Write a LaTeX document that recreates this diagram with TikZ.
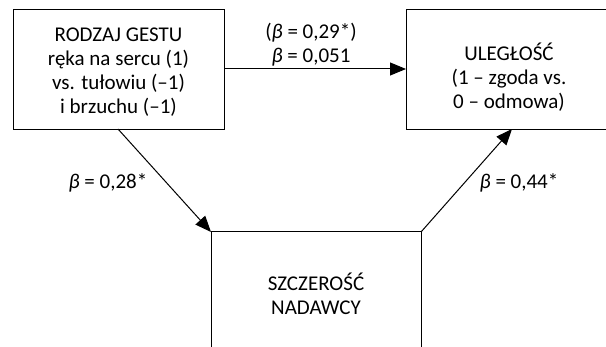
\documentclass[tikz,border=0pt]{standalone}
\usepackage{fontspec}
\setmainfont{Carlito}
\usetikzlibrary{arrows.meta}
\begin{document}
\begin{tikzpicture}[x=1pt,y=-1pt,
  boxtxt/.style={font=\fontsize{21}{24}\selectfont,align=center,inner sep=0pt},
  lbl/.style={font=\fontsize{21}{24}\selectfont,inner sep=0pt},
  conn/.style={line width=1pt,-{Triangle[length=16pt,width=13pt]}},
  edge/.style={line width=1pt}]
\useasboundingbox (0,0) rectangle (606,347);
\node[draw,line width=1pt,minimum width=211pt,minimum height=120pt,anchor=north west] (gest) at (13,9) {};
\node[boxtxt] (gesttxt) at (118.5,72) {RODZAJ GESTU\\ręka na sercu (1)\\vs. tułowiu (–1)\\i brzuchu (–1)};
\node[draw,line width=1pt,minimum width=206pt,minimum height=120pt,anchor=north west] (ul) at (406,9) {};
\node[boxtxt] (ultxt) at (509,77) {ULEGŁOŚĆ\\(1 – zgoda vs.\\0 – odmowa)};
\coordinate (stl) at (211,232);
\coordinate (str) at (421,232);
\coordinate (sbl) at (211,350);
\coordinate (sbr) at (421,350);
\draw[edge] (sbl) -- (stl) -- (str) -- (sbr);
\node[boxtxt] (sztxt) at (316,294) {SZCZEROŚĆ\\NADAWCY};
\coordinate (gb) at (118,129);
\coordinate (ub) at (512,129);
\draw[conn] (gest.east |- 0,69) -- (ul.west |- 0,69);
\draw[conn] (gb) -- (stl);
\draw[conn] (str) -- (ub);
\node[lbl,align=center] (l1) at (311,45) {(\textit{β} = 0,29*)\\\textit{β} = 0,051};
\node[lbl] (l2) at (108,183) {\textit{β} = 0,28*};
\node[lbl] (l3) at (519,183) {\textit{β} = 0,44*};
\end{tikzpicture}
\end{document}
